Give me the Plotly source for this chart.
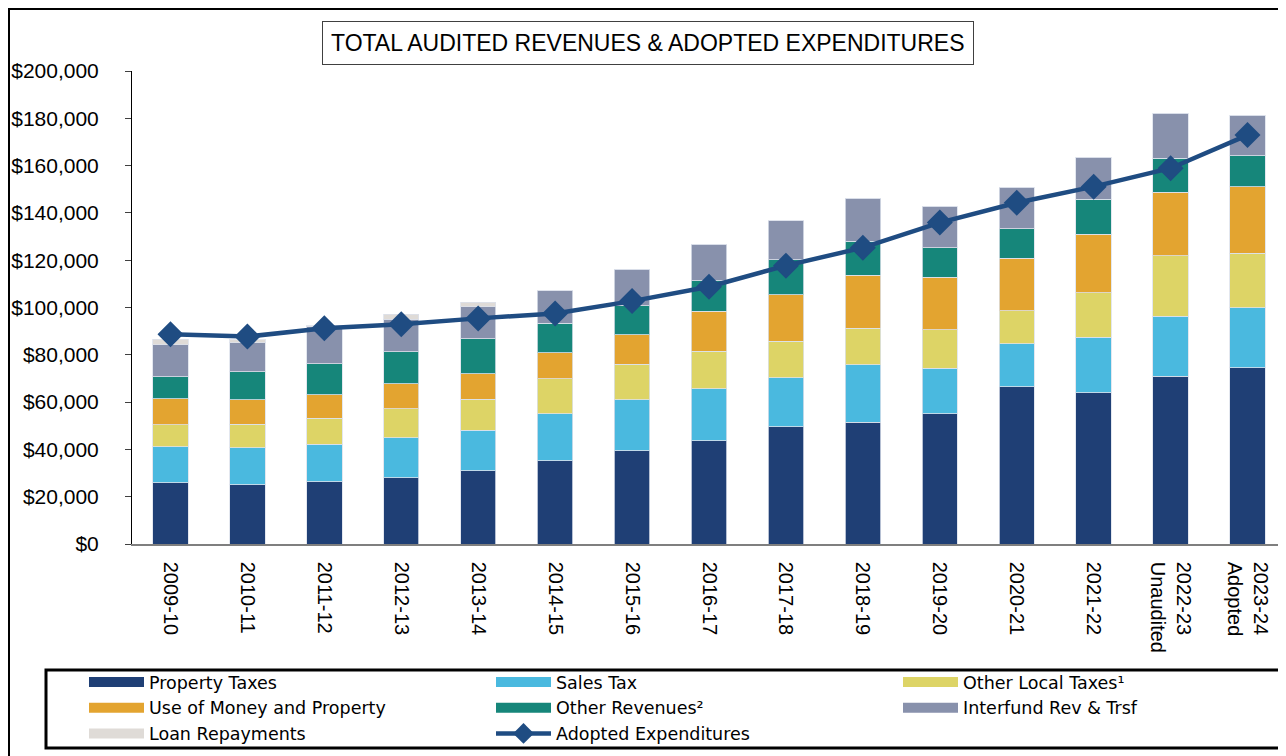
import plotly.graph_objects as go

categories = ["2009-10", "2010-11", "2011-12", "2012-13", "2013-14", "2014-15", "2015-16",
              "2016-17", "2017-18", "2018-19", "2019-20", "2020-21", "2021-22",
              "2022-23<br>Unaudited", "2023-24<br>Adopted"]

property_taxes = [25900, 25100, 26300, 28000, 31000, 35100, 39500, 43700, 49600, 51500, 55000, 66500, 64000, 71000, 74600]
sales_tax      = [15200, 15600, 15800, 16900, 17100, 20000, 21400, 22000, 20700, 24200, 19400, 18200, 23500, 25300, 25300]
other_local    = [9300, 10000, 11000, 12200, 13200, 14700, 15200, 15900, 15500, 15500, 16100, 13900, 18800, 25600, 23100]
use_of_money   = [11000, 10200, 10000, 10700, 10600, 11000, 12300, 16900, 19600, 22400, 22300, 22200, 24700, 26800, 28000]
other_revenues = [9300, 12000, 13100, 13500, 14800, 12600, 12400, 12800, 14800, 14500, 12500, 12500, 14700, 14400, 13200]
interfund      = [13600, 12200, 15600, 13800, 13600, 13700, 15300, 15500, 16400, 18100, 17600, 17500, 17900, 19100, 17100]
loan_repay     = [2200, 1200, 400, 2000, 1900, 0, 0, 0, 0, 0, 0, 0, 0, 0, 0]
adopted_exp    = [88700, 87700, 91200, 92900, 95400, 97500, 102700, 108800, 117700, 125300, 135900, 144300, 151100, 158900, 172900]

# (name, values, colour, legend column)
series = [
    ("Property Taxes", property_taxes, "#1F3F75", "legend"),
    ("Sales Tax", sales_tax, "#4AB9DF", "legend2"),
    ("Other Local Taxes¹", other_local, "#DDD466", "legend3"),
    ("Use of Money and Property", use_of_money, "#E3A430", "legend"),
    ("Other Revenues²", other_revenues, "#16867A", "legend2"),
    ("Interfund Rev & Trsf", interfund, "#8891AC", "legend3"),
    ("Loan Repayments", loan_repay, "#DFDBD7", "legend"),
]

FONT = "Liberation Sans, Arial, sans-serif"
LEG_FONT = "DejaVu Sans, Liberation Sans, sans-serif"

fig = go.Figure()
for name, vals, col, lg in series:
    fig.add_trace(go.Bar(x=categories, y=vals, name=name, legendgroup=name, showlegend=False,
                         marker=dict(color=col, line=dict(color="rgba(220,225,235,0.8)", width=1))))
    # wide swatch legend entry (no data of its own)
    fig.add_trace(go.Scatter(x=[None], y=[None], name=name, legendgroup=name, legend=lg,
                             mode="lines", line=dict(color=col, width=14), hoverinfo="skip"))
fig.add_trace(go.Scatter(x=categories, y=adopted_exp, name="Adopted Expenditures",
                         legend="legend2", mode="lines+markers",
                         line=dict(color="#1F4C82", width=4.5),
                         marker=dict(symbol="diamond", size=20, color="#1F4C82")))

# page has an 8px body margin: work in page pixels, convert to figure pixels
OFF = 8
W, H = 1286 - OFF, 756 - OFF
L, T = 132 - OFF, 71 - OFF
B = H - (544 - OFF)
R = 0
pw, ph = W - L - R, H - T - B

def xp(px):
    return (px - OFF - L) / pw

def yp(py):
    return (H - B - (py - OFF)) / ph

def legend_at(px):
    return dict(orientation="v", traceorder="normal",
                x=xp(px), y=yp(664), xanchor="left", yanchor="top",
                itemwidth=55, font=dict(size=17.5, family=LEG_FONT),
                bgcolor="rgba(0,0,0,0)", borderwidth=0, tracegroupgap=0)

fig.update_layout(
    width=W, height=H,
    margin=dict(l=L, r=R, t=T, b=B, autoexpand=False),
    barmode="stack", bargap=0.54,
    plot_bgcolor="white", paper_bgcolor="white",
    font=dict(family=FONT, color="black"),
    showlegend=True,
    legend=legend_at(84),
    legend2=legend_at(491),
    legend3=legend_at(898),
    xaxis=dict(type="category", range=[-0.5, len(categories) - 0.5],
               showline=True, linecolor="#7F7F7F", linewidth=1.5, ticks="",
               tickangle=90, tickfont=dict(size=20, family=FONT),
               ticklabelstandoff=12, showgrid=False),
    yaxis=dict(range=[0, 200000], dtick=20000, tickformat="$,.0f",
               showline=True, linecolor="black", linewidth=1, ticks="outside",
               ticklen=6, tickcolor="#404040", tickfont=dict(size=21, family=FONT),
               ticklabelstandoff=22, showgrid=False, zeroline=False),
    annotations=[dict(text="TOTAL AUDITED REVENUES & ADOPTED EXPENDITURES",
                      xref="paper", yref="paper", x=xp(648), y=yp(43),
                      xanchor="center", yanchor="middle", showarrow=False,
                      font=dict(size=23, family=FONT, color="black"),
                      bordercolor="#404040", borderwidth=1, borderpad=8,
                      bgcolor="white")],
    shapes=[
        dict(type="rect", xref="paper", yref="paper",
             x0=xp(9), x1=xp(1292), y0=yp(762), y1=yp(9),
             line=dict(color="black", width=2), layer="below"),
        dict(type="rect", xref="paper", yref="paper",
             x0=xp(46), x1=xp(1283), y0=yp(748), y1=yp(670),
             line=dict(color="black", width=3), layer="below"),
    ],
)

fig.write_html("out.html")
